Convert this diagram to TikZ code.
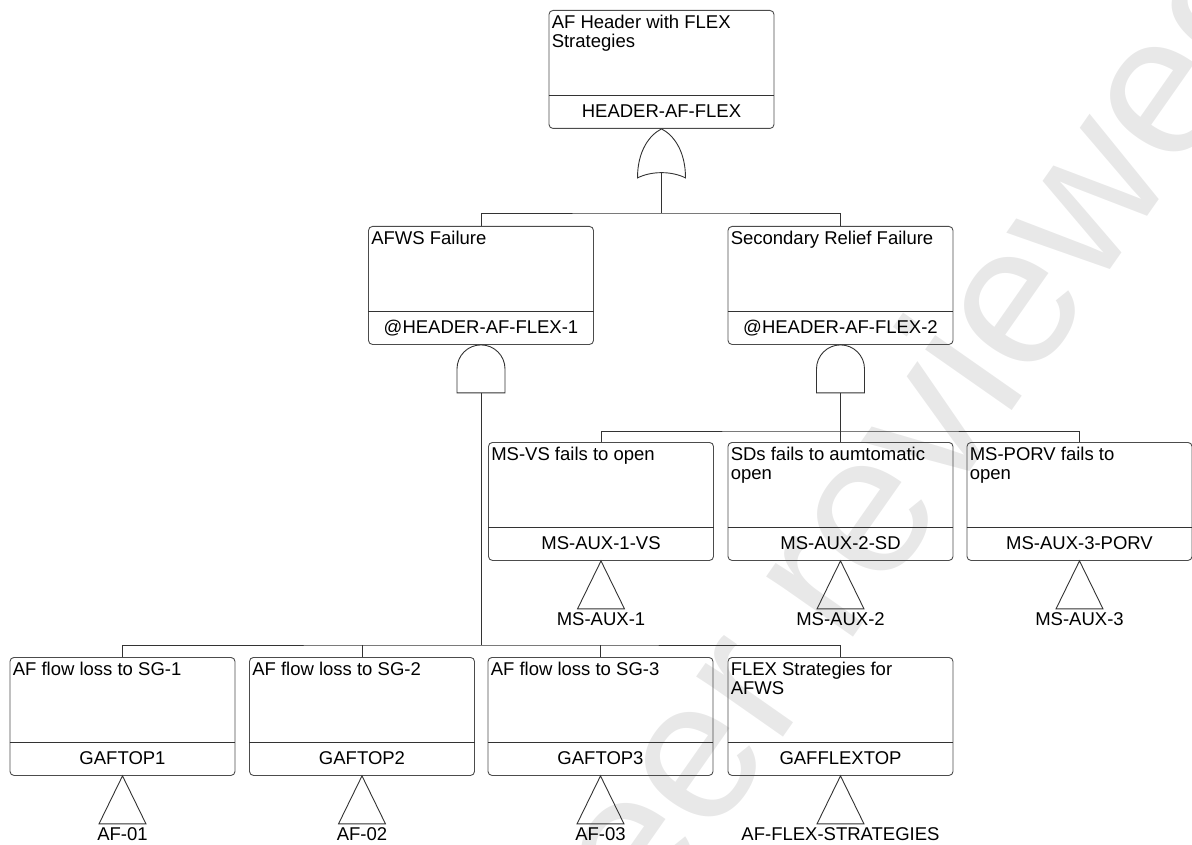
\documentclass[tikz,border=0pt]{standalone}
\usepackage{fontspec}
\setmainfont{Liberation Sans}

% event box: name, centre x, top y, description, identifier
\newcommand\ftevent[5]{%
  \node[ftbox] (#1) at (#2,#3) {};
  \draw[ftline] ([yshift=-85pt]#1.north west) -- ([yshift=-85pt]#1.north east);
  \node[desc] (#1-d) at ([xshift=3pt,yshift=-5pt]#1.north west) {#4};
  \node[ident] (#1-i) at ([yshift=11pt]#1.south) {#5};
}
% transfer triangle under a box: box name, label name, label text
\newcommand\fttransfer[3]{%
  \draw[ftline] (#1.south) -- ++(-23.5pt,-48pt) -- ++(47pt,0pt) -- cycle;
  \node[ident] (#2) at ([yshift=-65pt]#1.south) {#3};
}
% AND gate hanging below a box: box name, output coordinate name
\newcommand\ftand[2]{%
  \begin{scope}[shift={(#1.south)}]
    \draw[ftline] (-24pt,-48pt) -- (-24pt,-24pt)
      .. controls (-24pt,-10.75pt) and (-13.25pt,0pt) .. (0pt,0pt)
      .. controls (13.25pt,0pt) and (24pt,-10.75pt) .. (24pt,-24pt)
      -- (24pt,-48pt) -- cycle;
    \coordinate (#2) at (0pt,-48pt);
  \end{scope}
}

\begin{document}
\begin{tikzpicture}[x=1pt,y=-1pt,
  ftbox/.style={draw=black!70, line width=0.9pt, rounded corners=4pt,
    minimum width=225pt, minimum height=118pt, inner sep=0pt, anchor=north},
  ftline/.style={draw=black!80, line width=0.9pt},
  desc/.style={anchor=north west, align=left, inner sep=0pt,
    font=\fontsize{18.5}{19}\selectfont},
  ident/.style={anchor=base, inner sep=0pt,
    font=\fontsize{18.5}{19}\selectfont},
  wmark/.style={text=black!9, rotate=55, inner sep=0pt,
    font=\fontsize{200}{200}\selectfont}]

\useasboundingbox (0,0) rectangle (1192,845);

% faint diagonal watermark behind the tree
\begin{scope}
  \clip (0,0) rectangle (1192,845);
  \node[wmark] (wm) at (902,478) {peer reviewed};
\end{scope}

% events
\ftevent{top}{661.5}{10}{AF Header with FLEX\\Strategies}{HEADER-AF-FLEX}
\ftevent{afws}{481}{226}{AFWS Failure}{@HEADER-AF-FLEX-1}
\ftevent{sec}{840.5}{226}{Secondary Relief Failure}{@HEADER-AF-FLEX-2}
\ftevent{msvs}{601}{442}{MS-VS fails to open}{MS-AUX-1-VS}
\ftevent{sds}{840.5}{442}{SDs fails to aumtomatic\\open}{MS-AUX-2-SD}
\ftevent{porv}{1079.5}{442}{MS-PORV fails to\\open}{MS-AUX-3-PORV}
\ftevent{sg1}{122.5}{657}{AF flow loss to SG-1}{GAFTOP1}
\ftevent{sg2}{362}{657}{AF flow loss to SG-2}{GAFTOP2}
\ftevent{sg3}{600.5}{657}{AF flow loss to SG-3}{GAFTOP3}
\ftevent{flex}{840.5}{657}{FLEX Strategies for\\AFWS}{GAFFLEXTOP}

% OR gate under the top event
\begin{scope}[shift={(top.south)}]
  \draw[ftline] (-24pt,-49pt) .. controls (-24pt,-22pt) and (-12pt,-6pt) .. (0pt,0pt)
    .. controls (12pt,-6pt) and (24pt,-22pt) .. (24pt,-49pt)
    .. controls (10pt,-42pt) and (-10pt,-42pt) .. (-24pt,-49pt) -- cycle;
  \coordinate (or-out) at (0pt,-44pt);
\end{scope}

% AND gates
\ftand{afws}{and1-out}
\ftand{sec}{and2-out}

% bus levels
\coordinate (bus0) at (661.5,213);
\coordinate (bus1) at (840.5,431);
\coordinate (bus2) at (481,645);

% connectors
\draw[ftline] (or-out) -- (bus0);
\draw[ftline] (afws.north) |- (bus0) -| (sec.north);

\draw[ftline] (and2-out) -- (bus1);
\draw[ftline] (msvs.north) |- (bus1) -| (porv.north);
\draw[ftline] (sds.north) -- (sds.north |- bus1);

\draw[ftline] (and1-out) -- (bus2);
\draw[ftline] (sg1.north) |- (bus2) -| (flex.north);
\draw[ftline] (sg2.north) -- (sg2.north |- bus2);
\draw[ftline] (sg3.north) -- (sg3.north |- bus2);

% transfer gates
\fttransfer{msvs}{t-aux1}{MS-AUX-1}
\fttransfer{sds}{t-aux2}{MS-AUX-2}
\fttransfer{porv}{t-aux3}{MS-AUX-3}
\fttransfer{sg1}{t-af1}{AF-01}
\fttransfer{sg2}{t-af2}{AF-02}
\fttransfer{sg3}{t-af3}{AF-03}
\fttransfer{flex}{t-afflex}{AF-FLEX-STRATEGIES}

\end{tikzpicture}
\end{document}
